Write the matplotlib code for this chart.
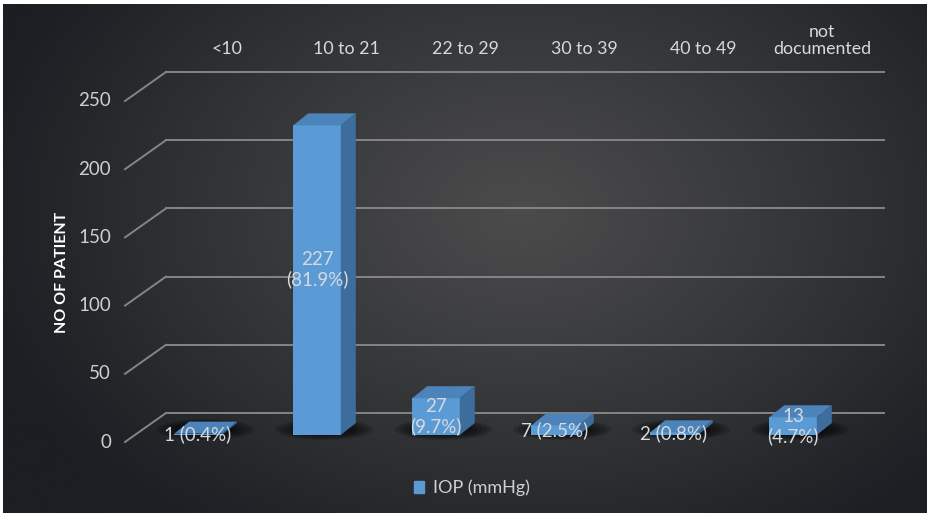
import matplotlib
matplotlib.use("Agg")
import matplotlib.pyplot as plt
import numpy as np
from matplotlib.patches import Polygon, Ellipse, Patch

plt.rcParams["font.family"] = ["Lato", "DejaVu Sans"]

categories = ["<10", "10 to 21", "22 to 29", "30 to 39", "40 to 49", "not\ndocumented"]
patients = [1, 227, 27, 7, 2, 13]
percents = [0.4, 81.9, 9.7, 2.5, 0.8, 4.7]
yticks = [0, 50, 100, 150, 200, 250]

# pixel geometry of the picture, used to set the data limits
W, H = 928, 515
X0, DX = 198, 119      # px of first bar centre, px per category
Y0, DY = 435, 1.364    # px of value 0 on the bar front, px per patient


def px2x(px):
    return (px - X0) / DX


def px2y(py):
    return (Y0 - py) / DY


bar_w = 0.4
depth_x, depth_y = 15 / DX, 12 / DY           # bar depth
back_x, back_y = 31 / DX, 22 / DY             # back wall relative to bar front
front_x, front_y = -10 / DX, -7 / DY          # floor front edge relative to bar front
wall_left = px2x(135)
wall_right = px2x(884)

front_c = "#5b9bd5"
top_c = "#4c83ba"
side_c = "#3d6d9c"
grid_c = "#858585"
text_c = "#d6d9dd"

fig = plt.figure(figsize=(W / 100, H / 100), dpi=100, facecolor="white")
ax = fig.add_axes([0, 0, 1, 1])
ax.set_xlim(px2x(0), px2x(W))
ax.set_ylim(px2y(H), px2y(0))
ax.axis("off")

# dark radial background
gx, gy = np.meshgrid(np.arange(W), np.arange(H))
d = np.sqrt(((gx - 520) / 560.0) ** 2 + ((gy - 210) / 400.0) ** 2)
d = np.clip(d, 0, 1) ** 1.1
c_in = np.array([0x4b, 0x4b, 0x4c]) / 255
c_out = np.array([0x1b, 0x1e, 0x22]) / 255
bg = c_in[None, None, :] + (c_out - c_in)[None, None, :] * d[:, :, None]
ax.imshow(bg, extent=(px2x(3), px2x(W), px2y(513), px2y(5)), aspect="auto", zorder=0)

# gridlines on back wall and left side wall
for t in yticks:
    ax.plot([wall_left + back_x, wall_right], [t + back_y, t + back_y], color=grid_c, lw=1.4, zorder=1)
    ax.plot([wall_left + front_x, wall_left + back_x], [t + front_y, t + back_y], color=grid_c, lw=1.4, zorder=1)
    ax.text(px2x(111), t + front_y, str(t), color="#cfcfcf", fontsize=13.5, ha="right", va="center", zorder=4)

# category labels along the top of the back wall
for i, cat in enumerate(categories):
    ax.text(i + 29 / DX, px2y(57), cat, color=text_c, fontsize=12.8, ha="center", va="bottom",
            linespacing=1.1, zorder=4)

# bars
for i, v in enumerate(patients):
    l, r = i - bar_w / 2, i + bar_w / 2
    for k in range(6):
        ax.add_patch(Ellipse((i + 0.06, 4), 0.82 - k * 0.08, 15 - k * 1.6, color="black",
                             alpha=0.16, lw=0, zorder=2))
    ax.add_patch(Polygon([(l, 0), (r, 0), (r, v), (l, v)], color=front_c, lw=0, zorder=3))
    ax.add_patch(Polygon([(l, v), (r, v), (r + depth_x, v + depth_y), (l + depth_x, v + depth_y)],
                         color=top_c, lw=0, zorder=3))
    ax.add_patch(Polygon([(r, 0), (r + depth_x, depth_y), (r + depth_x, v + depth_y), (r, v)],
                         color=side_c, lw=0, zorder=3))
    if v >= 10:
        lab = f"{v}\n({percents[i]}%)"
    else:
        lab = f"{v} ({percents[i]}%)"
    ax.text(i, v / 2 + (8 if v > 100 else 0), lab, color=text_c, fontsize=13.5, ha="center", va="center",
            linespacing=1.15, zorder=4)

ax.text(px2x(62), px2y(272), "NO OF PATIENT", color="white", fontsize=11.5, fontweight="bold",
        rotation=90, ha="center", va="center", zorder=4)

ax.legend(handles=[Patch(color=front_c, label="IOP (mmHg)")], loc="center",
          bbox_to_anchor=(472 / W, 1 - 488 / H), frameon=False, labelcolor="#d0d0d0",
          fontsize=13, handlelength=0.6, handleheight=0.6, handletextpad=0.5)

fig.savefig("out.png", dpi=100, facecolor="white")
